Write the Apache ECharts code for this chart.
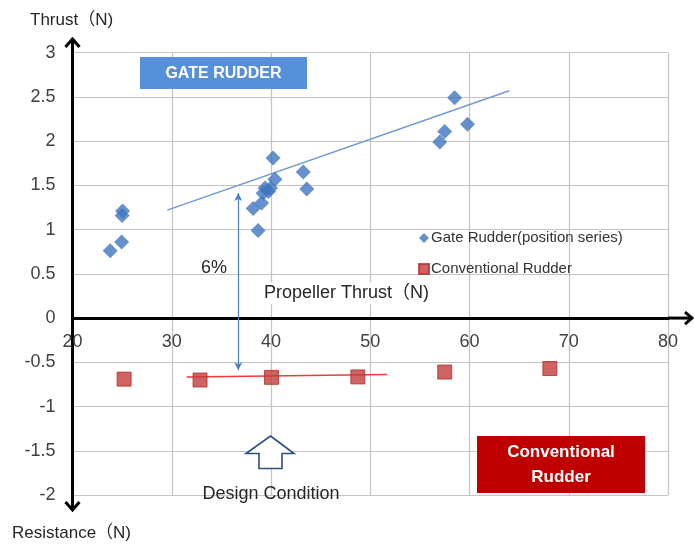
<!DOCTYPE html>
<html><head><meta charset="utf-8">
<script src="https://cdn.jsdelivr.net/npm/echarts@6/dist/echarts.min.js"></script>
<style>html,body{margin:0;padding:0;background:#fff}#c{width:694px;height:544px}</style>
</head><body><div id="c"></div>
<script>
// Gate Rudder (position series) – blue diamonds
const gateX = [23.8, 25.0, 25.05, 24.95, 38.2, 38.7, 39.05, 39.2, 39.4, 39.75, 39.95, 40.2, 40.4, 43.25, 43.6, 57.0, 57.5, 58.5, 59.8];
const gateY = [0.76, 1.16, 1.21, 0.86, 1.24, 0.99, 1.30, 1.41, 1.47, 1.43, 1.47, 1.81, 1.57, 1.65, 1.46, 1.99, 2.11, 2.49, 2.19];
// Conventional Rudder – red squares
const convX = [25.2, 32.85, 40.05, 48.75, 57.5, 68.1];
const convY = [-0.69, -0.70, -0.67, -0.665, -0.61, -0.57];
// Trend lines
const gateTrendX = [29.55, 64.0];
const gateTrendY = [1.22, 2.57];
const convTrendX = [31.5, 51.7];
const convTrendY = [-0.665, -0.637];
// 6% double arrow (x, top, bottom)
const gapArrowX = [36.7];
const gapArrowY = [1.415, -0.59];
// Axes
const xMin = 20, xMax = 80, xStep = 10;
const yMin = -2, yMax = 3, yStep = 0.5;
const seriesNames = ['Gate Rudder(position series)', 'Conventional Rudder'];

const FONT = '"Liberation Sans", Arial, "Noto Sans CJK JP", sans-serif';
const zip = (a, b) => a.map((v, i) => [v, b[i]]);

const chart = echarts.init(document.getElementById('c'), null, {renderer: 'canvas'});
const option = {
  animation: false,
  backgroundColor: '#fff',
  textStyle: {fontFamily: FONT},
  grid: {left: 72.5, right: 26, top: 52.7, bottom: 49},
  legend: {
    data: [{name: seriesNames[0], icon: 'diamond'}, {name: seriesNames[1], icon: 'rect'}],
    orient: 'vertical', left: 413, top: 225,
    itemWidth: 10, itemHeight: 10, itemGap: 15,
    textStyle: {fontSize: 15, color: '#333', fontFamily: FONT, lineHeight: 16, padding: [0, 0, 0, -3]}
  },
  xAxis: {
    type: 'value', min: xMin, max: xMax, interval: xStep,
    axisLine: {show: true, onZero: false, lineStyle: {color: '#000', width: 3}},
    axisTick: {show: false},
    axisLabel: {fontSize: 18, color: '#404040', margin: 15, fontFamily: FONT},
    splitLine: {show: true, lineStyle: {color: '#c4c4c4', width: 1.2}}
  },
  yAxis: {
    type: 'value', min: yMin, max: yMax, interval: yStep,
    axisLine: {show: true, onZero: false, lineStyle: {color: '#000', width: 3}},
    axisTick: {show: false},
    axisLabel: {fontSize: 18, color: '#404040', margin: 17, fontFamily: FONT},
    splitLine: {show: true, lineStyle: {color: '#c4c4c4', width: 1.2}}
  },
  series: [
    {
      name: seriesNames[0], type: 'scatter', symbol: 'diamond', symbolSize: 15,
      itemStyle: {color: '#4076c0'}, data: zip(gateX, gateY), z: 5
    },
    {
      name: seriesNames[1], type: 'scatter', symbol: 'rect', symbolSize: 14,
      itemStyle: {color: '#c43b3b', borderColor: '#b03030', borderWidth: 1}, data: zip(convX, convY), z: 5
    },
    {
      name: 'gateTrend', type: 'line', symbol: 'none', silent: true,
      lineStyle: {color: '#7299cf', width: 1.5}, data: zip(gateTrendX, gateTrendY), z: 3,
      markLine: {
        silent: true, symbol: ['arrow', 'arrow'], symbolSize: [6, 8], label: {show: false},
        lineStyle: {color: '#4f80c4', width: 1.2, type: 'solid'},
        data: [[{coord: [gapArrowX[0], gapArrowY[0]]}, {coord: [gapArrowX[0], gapArrowY[1]]}]]
      }
    },
    {
      name: 'convTrend', type: 'line', symbol: 'none', silent: true,
      lineStyle: {color: '#f03a3a', width: 1.5}, data: zip(convTrendX, convTrendY), z: 3
    }
  ]
};
chart.setOption(option);

const p = (x, y) => chart.convertToPixel({gridIndex: 0}, [x, y]);
const o = p(xMin, 0), tp = p(xMin, yMax), bt = p(xMin, yMin), rt = p(xMax, 0);
// move the x axis (line + labels) up to y = 0
chart.setOption({xAxis: {offset: -(bt[1] - o[1])}});

const ax = {stroke: '#000', lineWidth: 3};
const txt = (x, y, s, extra) => Object.assign({
  type: 'text', x: x, y: y, z: 20,
  style: Object.assign({text: s, fontSize: 18, fill: '#262626', fontFamily: FONT, align: 'left', verticalAlign: 'middle'}, extra || {})
});
chart.setOption({
  graphic: [
    // axis extensions with arrowheads
    {type: 'line', z: 10, shape: {x1: tp[0], y1: tp[1], x2: tp[0], y2: 39}, style: ax},
    {type: 'polyline', z: 10, shape: {points: [[tp[0] - 7, 47], [tp[0], 39], [tp[0] + 7, 47]]}, style: ax},
    {type: 'line', z: 10, shape: {x1: bt[0], y1: bt[1], x2: bt[0], y2: 510}, style: ax},
    {type: 'polyline', z: 10, shape: {points: [[bt[0] - 7, 502], [bt[0], 510], [bt[0] + 7, 502]]}, style: ax},
    {type: 'line', z: 10, shape: {x1: rt[0], y1: o[1], x2: 692, y2: o[1]}, style: ax},
    {type: 'polyline', z: 10, shape: {points: [[685, o[1] - 6], [692, o[1]], [685, o[1] + 6]]}, style: ax},
    // GATE RUDDER box
    {type: 'rect', z: 15, shape: {x: 140, y: 57, width: 167, height: 32}, style: {fill: '#5590d8'}},
    txt(223.5, 73.5, 'GATE RUDDER', {fill: '#fff', fontWeight: 'bold', fontSize: 16, align: 'center'}),
    // Conventional Rudder box
    {type: 'rect', z: 15, shape: {x: 477, y: 436, width: 168, height: 57}, style: {fill: '#c00000'}},
    txt(561, 465, 'Conventional\nRudder', {fill: '#fff', fontWeight: 'bold', fontSize: 17, align: 'center', lineHeight: 25}),
    // texts
    txt(30, 20, 'Thrust（N)', {fontSize: 17}),
    txt(12, 533, 'Resistance（N)', {fontSize: 17}),
    txt(262, 293, 'Propeller Thrust（N)', {backgroundColor: '#fff', padding: [2, 2, 2, 2]}),
    txt(201, 268, '6%'),
    txt(271, 494, 'Design Condition', {align: 'center'}),
    // Design condition outline arrow
    {type: 'polygon', z: 15, shape: {points: [[270.5, 436], [294, 453.5], [282, 453.5], [282, 468.5], [259, 468.5], [259, 453.5], [246, 453.5]]},
      style: {fill: '#fff', stroke: '#2f4f80', lineWidth: 1.6}}
  ]
});
</script>
</body></html>
